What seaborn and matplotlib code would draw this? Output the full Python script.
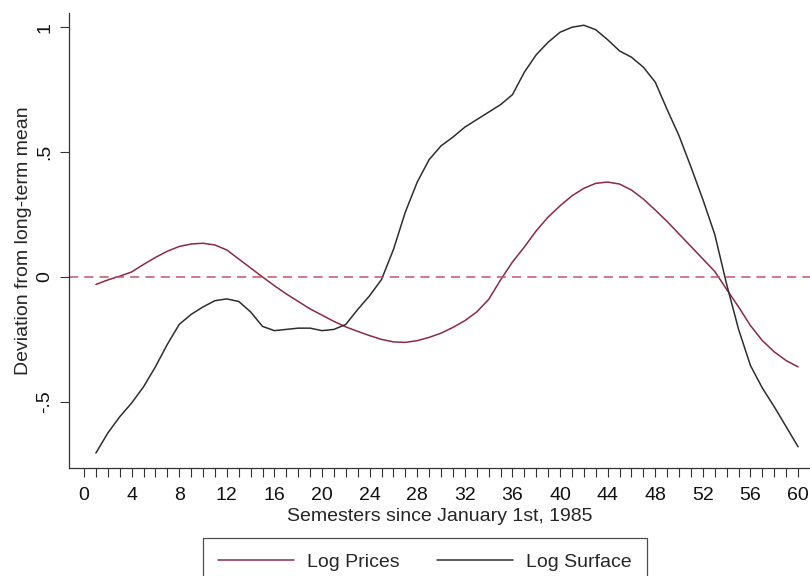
import matplotlib
matplotlib.use("Agg")
import matplotlib.pyplot as plt
import numpy as np
import pandas as pd
import seaborn as sns

# semesters since January 1st, 1985
semesters = list(range(1, 61))

log_prices = [
    -0.030, -0.012, 0.003, 0.020, 0.050, 0.078, 0.103, 0.122, 0.132, 0.135,
    0.128, 0.108, 0.072, 0.036, 0.000, -0.035, -0.068, -0.098, -0.128, -0.153,
    -0.178, -0.200, -0.218, -0.235, -0.250, -0.260, -0.262, -0.255, -0.242, -0.225,
    -0.202, -0.175, -0.140, -0.090, -0.012, 0.060, 0.120, 0.185, 0.240, 0.285,
    0.325, 0.355, 0.375, 0.380, 0.372, 0.348, 0.312, 0.268, 0.222, 0.172,
    0.122, 0.072, 0.022, -0.050, -0.120, -0.195, -0.255, -0.300, -0.335, -0.360,
]

log_surface = [
    -0.705, -0.625, -0.560, -0.505, -0.440, -0.360, -0.270, -0.190, -0.150, -0.120,
    -0.095, -0.088, -0.098, -0.140, -0.198, -0.215, -0.210, -0.205, -0.205, -0.215,
    -0.210, -0.190, -0.130, -0.075, -0.010, 0.110, 0.260, 0.380, 0.470, 0.525,
    0.560, 0.600, 0.630, 0.660, 0.690, 0.730, 0.820, 0.890, 0.940, 0.980,
    1.000, 1.008, 0.990, 0.950, 0.905, 0.880, 0.840, 0.780, 0.670, 0.565,
    0.440, 0.310, 0.170, -0.030, -0.210, -0.355, -0.445, -0.520, -0.600, -0.680,
]

series_names = ["Log Prices", "Log Surface"]
series_colors = ["#8a2a45", "#2e2e2e"]
x_ticks = list(range(0, 61, 4))
y_ticks = [-0.5, 0, 0.5, 1]
y_tick_labels = ["-.5", "0", ".5", "1"]

df = pd.DataFrame({
    "semester": semesters * 2,
    "value": log_prices + log_surface,
    "series": [series_names[0]] * len(semesters) + [series_names[1]] * len(semesters),
})

sns.set_style("ticks")
plt.rcParams["font.family"] = ["Liberation Sans", "DejaVu Sans"]

fig = plt.figure(figsize=(8.1, 5.76), dpi=100)
ax = fig.add_axes([69 / 810, 108 / 576, 741 / 810, 455 / 576])

sns.lineplot(data=df, x="semester", y="value", hue="series",
             palette=dict(zip(series_names, series_colors)),
             linewidth=1.1, ax=ax, legend=False)

ax.axhline(0, color="#c4536f", linestyle=(0, (6, 4)), linewidth=1.1)

ax.set_xlim(-1.26, 61.0)
ax.set_ylim(-0.765, 1.057)

ax.set_xticks(x_ticks)
ax.set_xticks(range(0, 61), minor=True)
ax.set_yticks(y_ticks)
ax.set_yticklabels(y_tick_labels, rotation=90, va="center")
ax.tick_params(axis="both", which="both", length=6.5, width=0.8, color="#333333",
               labelsize=14, labelcolor="#111111")
ax.tick_params(axis="x", pad=7)
ax.tick_params(axis="y", pad=5)

sns.despine(ax=ax)
for side in ["left", "bottom"]:
    ax.spines[side].set_linewidth(0.9)
    ax.spines[side].set_color("#333333")

ax.set_xlabel("Semesters since January 1st, 1985", fontsize=14, labelpad=3)
ax.set_ylabel("Deviation from long-term mean", fontsize=14, labelpad=3)

handles = [plt.Line2D([], [], color=c, linewidth=1.1) for c in series_colors]
leg = fig.legend(handles, series_names, loc="upper center",
                 bbox_to_anchor=(425 / 810, 1 - 538 / 576), ncol=2,
                 fontsize=14, frameon=True, fancybox=False,
                 handlelength=3.9, handletextpad=0.65, columnspacing=1.95,
                 borderpad=0.8, borderaxespad=0)
leg.get_frame().set_edgecolor("#222222")
leg.get_frame().set_linewidth(0.9)

fig.savefig("out.png", dpi=100)
